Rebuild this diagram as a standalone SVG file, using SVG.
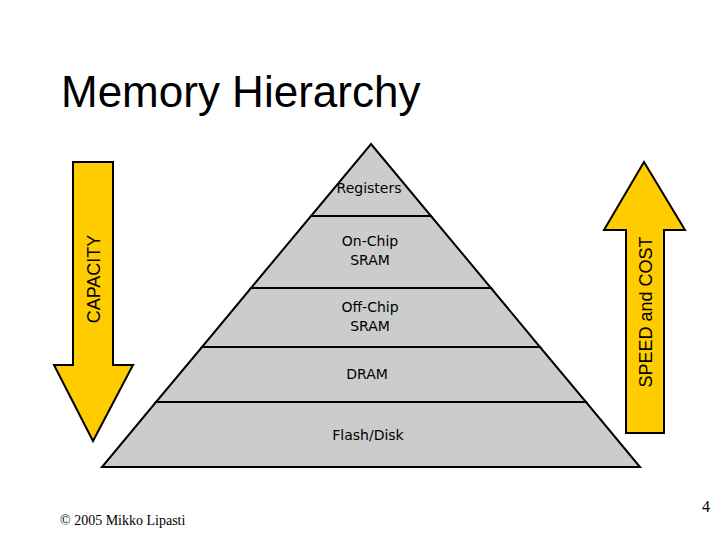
<svg xmlns="http://www.w3.org/2000/svg" width="720" height="540" viewBox="0 0 720 540">
  <style>
    .layer { fill: #CCCCCC; stroke: #000000; stroke-width: 2; stroke-linejoin: miter; }
    .arrow { fill: #FFCC00; stroke: #000000; stroke-width: 2; stroke-linejoin: miter; }
    .lbl { font-family: "DejaVu Sans", "Liberation Sans", sans-serif; font-size: 14px; fill: #000000; text-anchor: middle; }
    .albl { font-family: "Liberation Sans", Arial, sans-serif; font-size: 18px; fill: #000000; text-anchor: middle; }
  </style>
  <rect x="0" y="0" width="720" height="540" fill="#FFFFFF"/>
  <text id="title" x="61" y="107" font-family="Liberation Sans, Arial, sans-serif" font-size="44" fill="#000000">Memory Hierarchy</text>

  <g id="registers">
    <polygon class="layer" points="371,144 431,216 311,216"/>
    <text class="lbl" x="369" y="193">Registers</text>
  </g>
  <g id="onchip-sram">
    <polygon class="layer" points="311,216 431,216 491,288 251,288"/>
    <text class="lbl" x="370" y="246">On-Chip</text>
    <text class="lbl" x="370" y="265">SRAM</text>
  </g>
  <g id="offchip-sram">
    <polygon class="layer" points="251,288 491,288 540,347 202,347"/>
    <text class="lbl" x="370" y="312">Off-Chip</text>
    <text class="lbl" x="370" y="331">SRAM</text>
  </g>
  <g id="dram">
    <polygon class="layer" points="202,347 540,347 586,402 156,402"/>
    <text class="lbl" x="367" y="379">DRAM</text>
  </g>
  <g id="flash-disk">
    <polygon class="layer" points="156,402 586,402 640,467 102,467"/>
    <text class="lbl" x="368" y="440">Flash/Disk</text>
  </g>

  <g id="capacity">
    <polygon class="arrow" points="73,162 113,162 113,365 133,365 93,441 54,365 73,365"/>
    <text class="albl" transform="translate(100,279) rotate(-90)" x="0" y="0">CAPACITY</text>
  </g>
  <g id="speed-cost">
    <polygon class="arrow" points="644,162 685,230 664,230 664,433 626,433 626,230 604,230"/>
    <text class="albl" transform="translate(652,312) rotate(-90)" x="0" y="0">SPEED and COST</text>
  </g>

  <g id="connectors"></g>

  <text id="footer" x="60" y="525" font-family="Liberation Serif, Times New Roman, serif" font-size="14" fill="#000000">© 2005 Mikko Lipasti</text>
  <text id="page" x="702" y="512" font-family="Liberation Serif, Times New Roman, serif" font-size="16" fill="#000000">4</text>
</svg>
